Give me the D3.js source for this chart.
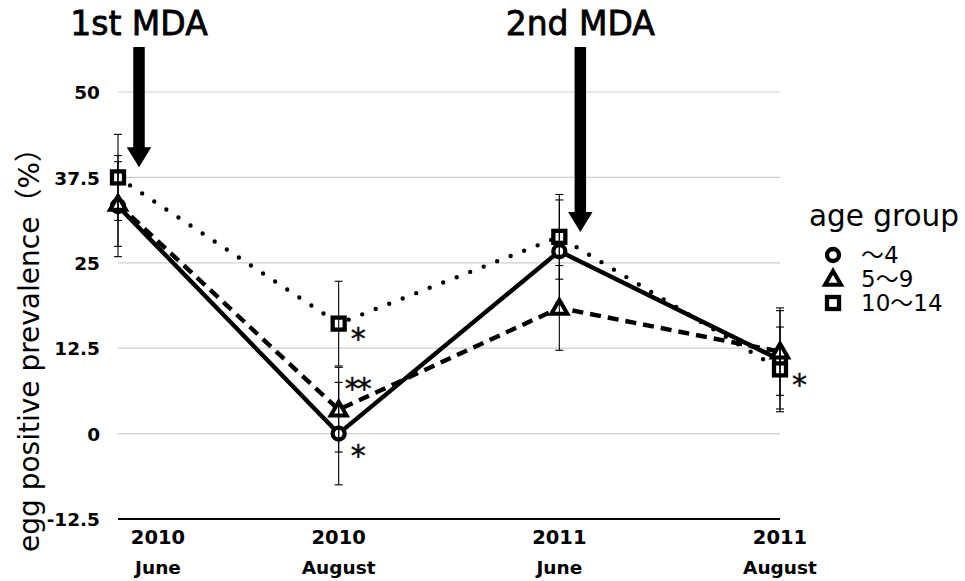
<!DOCTYPE html>
<html>
<head>
<meta charset="utf-8">
<script src="https://cdn.jsdelivr.net/npm/d3@7"></script>
<style>
  html, body { margin: 0; padding: 0; background: #fff; }
  svg { display: block; }
  text { font-family: "DejaVu Sans", "Noto Sans CJK JP", sans-serif; fill: #000; }
</style>
</head>
<body>
<svg id="chart" width="965" height="581"></svg>
<script>
// Survey rounds
const categories = ["2010 June", "2010 August", "2011 June", "2011 August"];
const yearLabels = ["2010", "2010", "2011", "2011"];
const monthLabels = ["June", "August", "June", "August"];

// Y axis ticks (%)
const yTicks = [-12.5, 0, 12.5, 25, 37.5, 50];

// Age groups
const groupNames = ["〜4", "5〜9", "10〜14"];
const groupShapes = ["circle", "triangle", "square"];
const groupLines = ["solid", "dashed", "dotted"];

// Egg positive prevalence (%) and error half-widths per age group
const prevUnder4 = [33.3, 0, 26.7, 10.8];
const errUnder4 = [7.4, 7.5, 7.5, 7.2];
const prev5to9 = [33.6, 3.5, 18.4, 12.0];
const err5to9 = [6.2, 6.2, 6.2, 6.4];
const prev10to14 = [37.5, 16.1, 28.8, 9.4];
const err10to14 = [6.3, 6.2, 6.2, 6.2];

// Mass drug administration rounds: label, round it follows, arrow tip value
const mdaLabels = ["1st MDA", "2nd MDA"];
const mdaRounds = ["2010 June", "2011 June"];
const mdaTips = [39, 29.5];

// Significance marks: group index, round index, mark
const sigGroups = [2, 1, 0, 2];
const sigRounds = [1, 1, 1, 3];
const sigMarks = ["*", "**", "*", "*"];

const groups = groupNames.map((name, g) => ({
  name,
  shape: groupShapes[g],
  line: groupLines[g],
  values: [prevUnder4, prev5to9, prev10to14][g],
  errors: [errUnder4, err5to9, err10to14][g]
}));

const svg = d3.select("#chart");
const plotLeft = 118, plotRight = 780, plotTop = 92, plotBottom = 519;

const x = d3.scalePoint().domain(categories).range([plotLeft, plotRight]);
const y = d3.scaleLinear().domain([-12.5, 50]).range([plotBottom, plotTop]);

// Horizontal gridlines
svg.append("g")
  .selectAll("line")
  .data(yTicks.filter(t => t > -12.5))
  .join("line")
  .attr("x1", plotLeft).attr("x2", plotRight)
  .attr("y1", d => y(d)).attr("y2", d => y(d))
  .attr("stroke", "#cfcfcf").attr("stroke-width", 1.2);

// Bottom axis line
svg.append("line")
  .attr("x1", plotLeft).attr("x2", plotRight)
  .attr("y1", y(-12.5)).attr("y2", y(-12.5))
  .attr("stroke", "#000").attr("stroke-width", 2);

// Y tick labels
const yAxis = d3.axisLeft(y).tickValues(yTicks).tickSize(0).tickPadding(0)
  .tickFormat(d => String(d));
const yg = svg.append("g").attr("transform", `translate(${plotLeft - 18},0)`).call(yAxis);
yg.select(".domain").remove();
yg.selectAll("text")
  .attr("font-family", "DejaVu Sans, sans-serif")
  .attr("font-size", 18.5).attr("font-weight", "bold").attr("fill", "#1a1a1a")
  .attr("dy", "0.36em");

// X tick labels (year over month)
const xl = svg.append("g");
categories.forEach((c, i) => {
  const cx = i === 0 ? x(c) + 40 : x(c);
  xl.append("text").attr("x", cx).attr("y", 544).attr("text-anchor", "middle")
    .attr("font-size", 19.5).attr("font-weight", "bold").attr("fill", "#1a1a1a")
    .text(yearLabels[i]);
  xl.append("text").attr("x", cx).attr("y", 574).attr("text-anchor", "middle")
    .attr("font-size", 18.5).attr("font-weight", "bold").attr("fill", "#1a1a1a")
    .text(monthLabels[i]);
});

// Y axis title
svg.append("text")
  .attr("transform", `translate(39,${343}) rotate(-90)`)
  .attr("text-anchor", "middle")
  .attr("font-size", 28).attr("fill", "#222")
  .text("egg positive prevalence（%）");

// Series lines
const dashFor = { solid: null, dashed: "11,7", dotted: "0,14.5" };
const lineGen = d3.line().x((d, i) => x(categories[i])).y(d => y(d));
svg.append("g")
  .selectAll("path")
  .data(groups)
  .join("path")
  .attr("d", d => lineGen(d.values))
  .attr("fill", "none")
  .attr("stroke", "#000")
  .attr("stroke-width", 4.4)
  .attr("stroke-linecap", d => d.line === "dotted" ? "round" : "butt")
  .attr("stroke-linejoin", "miter")
  .attr("stroke-dasharray", d => dashFor[d.line]);

// Marker shapes
function drawMarker(sel, shape) {
  if (shape === "circle") {
    sel.append("circle").attr("r", 6)
      .attr("fill", "#fff").attr("stroke", "#000").attr("stroke-width", 4.3);
  } else if (shape === "square") {
    sel.append("rect").attr("x", -6).attr("y", -6).attr("width", 12).attr("height", 12)
      .attr("fill", "#fff").attr("stroke", "#000").attr("stroke-width", 4.3);
  } else {
    sel.append("path").attr("d", "M0,-8L8,5.8L-8,5.8Z")
      .attr("fill", "#fff").attr("stroke", "#000").attr("stroke-width", 4)
      .attr("stroke-linejoin", "miter").attr("stroke-miterlimit", 3);
  }
}

const markers = svg.append("g");
groups.forEach(g => {
  g.values.forEach((v, i) => {
    const m = markers.append("g").attr("transform", `translate(${x(categories[i])},${y(v)})`);
    drawMarker(m, g.shape);
  });
});

// Error bars, drawn over the markers
const eb = svg.append("g").attr("stroke", "#000").attr("stroke-width", 1.1);
groups.forEach(g => {
  g.values.forEach((v, i) => {
    const cx = x(categories[i]);
    const lo = y(v - g.errors[i]), hi = y(v + g.errors[i]);
    eb.append("line").attr("x1", cx).attr("x2", cx).attr("y1", lo).attr("y2", hi);
    eb.append("line").attr("x1", cx - 4).attr("x2", cx + 4).attr("y1", lo).attr("y2", lo);
    eb.append("line").attr("x1", cx - 4).attr("x2", cx + 4).attr("y1", hi).attr("y2", hi);
  });
});

// Significance marks
const sigOffsetY = [6, -30, 13, 7];
sigMarks.forEach((mark, k) => {
  const g = groups[sigGroups[k]];
  const r = sigRounds[k];
  const cx = x(categories[r]) + 18;
  const cy = y(g.values[r]) + sigOffsetY[k];
  svg.append("text").attr("x", cx).attr("y", cy + 19)
    .attr("text-anchor", "middle").attr("font-size", 30).attr("letter-spacing", -3)
    .attr("fill", "#222").attr("stroke", "#222").attr("stroke-width", 0.5)
    .text(mark);
});

// MDA arrows and labels
mdaLabels.forEach((label, k) => {
  const cx = x(mdaRounds[k]) + 21;
  const tip = y(mdaTips[k]);
  const shaftTop = 47, headH = 20, shaftW = 11.5, headW = 24.5;
  svg.append("path")
    .attr("d", `M${cx - shaftW / 2},${shaftTop}L${cx + shaftW / 2},${shaftTop}` +
      `L${cx + shaftW / 2},${tip - headH}L${cx + headW / 2},${tip - headH}` +
      `L${cx},${tip}L${cx - headW / 2},${tip - headH}L${cx - shaftW / 2},${tip - headH}Z`)
    .attr("fill", "#000");
  svg.append("text").attr("x", cx).attr("y", 35).attr("text-anchor", "middle")
    .attr("font-size", 33).attr("fill", "#000")
    .attr("stroke", "#000").attr("stroke-width", 0.8)
    .text(label);
});

// Legend
const lg = svg.append("g");
lg.append("text").attr("x", 809).attr("y", 226).attr("font-size", 29.5).attr("fill", "#222")
  .text("age group");
groups.forEach((g, k) => {
  const baseY = 263 + k * 24;
  const m = lg.append("g").attr("transform", `translate(833,${baseY - 8})`);
  drawMarker(m, g.shape);
  lg.append("text").attr("x", 861).attr("y", baseY).attr("font-size", 23).attr("fill", "#222")
    .text(g.name);
});
</script>
</body>
</html>
